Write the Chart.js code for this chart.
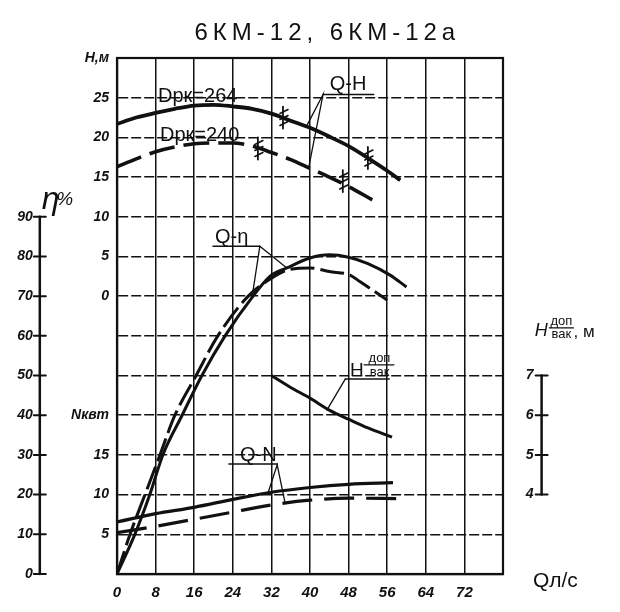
<!DOCTYPE html>
<html>
<head>
<meta charset="utf-8">
<script src="https://cdn.jsdelivr.net/npm/chart.js@4.4.1/dist/chart.umd.min.js"></script>
<style>
  html, body { margin: 0; padding: 0; background: #fff; }
</style>
</head>
<body>
<canvas id="pump" width="620" height="612"></canvas>
<script>
/* ---- axis labels ---- */
const qTickLabels = ['0', '8', '16', '24', '32', '40', '48', '56', '64', '72', ''];
// left grid labels, bottom row first: N (кВт) in the lower part, H (м) in the upper part
const rowTickLabels = ['', '5', '10', '15', 'Nквт', '', '', '0', '5', '10', '15', '20', '25', 'H,м'];
const etaTicks = [0, 10, 20, 30, 40, 50, 60, 70, 80, 90];
const vakTicks = [4, 5, 6, 7];

/* ---- Q-H, Dрк = 264 (solid) ---- */
const qH264 = [0, 4, 8, 12, 16, 20, 24, 28, 32, 36, 40, 44, 48, 52, 56, 58.7];
const h264  = [21.7, 22.5, 23.1, 23.6, 24.0, 24.1, 23.9, 23.6, 23.0, 22.1, 21.2, 20.1, 18.9, 17.4, 15.8, 14.6];

/* ---- Q-H, Dрк = 240 (dashed) ---- */
const qH240 = [0, 4, 8, 12, 16, 20, 24, 28, 32, 36, 40, 44, 48, 53];
const h240  = [16.3, 17.3, 18.2, 18.8, 19.2, 19.3, 19.3, 18.9, 18.1, 17.2, 16.1, 15.0, 13.8, 12.1];

/* ---- Q-η ---- */
const qEta264 = [0, 3.7, 6.8, 9.5, 13.5, 17.6, 22.4, 28.2, 31.7, 35.2, 40, 44, 48, 52, 56.6, 60];
const eta264  = [0, 10, 20, 30, 40, 50, 60, 70, 75, 77.1, 79.6, 80.4, 79.8, 78.2, 75.3, 72.3];
const qEta240 = [0, 2.7, 5.8, 8.9, 12, 16.4, 20.9, 27.2, 32, 36, 40, 44, 48.3, 50.4, 53, 56];
const eta240  = [0, 10, 20, 30, 40, 50, 60, 70, 74.5, 76.8, 77.1, 76.2, 75.3, 73.6, 71.5, 69];

/* ---- Q-N ---- */
const qN264 = [0, 8, 16, 24, 32, 40, 48, 57.2];
const n264  = [6.55, 7.6, 8.4, 9.4, 10.3, 10.9, 11.3, 11.5];
const qN240 = [0, 8, 16, 24, 32, 40, 48, 58.7];
const n240  = [5.2, 6.0, 6.9, 7.8, 8.7, 9.3, 9.55, 9.5];

/* ---- Q - H доп.вак ---- */
const qVak = [32, 36, 40, 44, 48, 52, 57];
const vak  = [7.0, 6.7, 6.43, 6.13, 5.9, 5.68, 5.45];

const ink = '#111';
const fam = '"Liberation Sans", "DejaVu Sans", sans-serif';

const pts = (qs, vs) => qs.map((q, i) => ({ x: q, y: vs[i] }));

function curve(qs, vs, axis, width, dash) {
  return {
    data: pts(qs, vs), yAxisID: axis,
    borderColor: ink, borderWidth: width, borderDash: dash || [],
    pointRadius: 0, fill: false, cubicInterpolationMode: 'monotone'
  };
}

/* extra axes, labels and leader lines drawn on top through the chart scales */
const sketch = {
  id: 'sketch',
  afterDraw(chart) {
    const { ctx, chartArea: a, scales: s } = chart;
    const X = q => s.x.getPixelForValue(q);
    const R = r => s.y.getPixelForValue(r);
    ctx.save();
    ctx.strokeStyle = ink; ctx.fillStyle = ink; ctx.lineCap = 'round';

    const line = (p, w) => {
      ctx.lineWidth = w; ctx.beginPath();
      p.forEach((c, i) => i ? ctx.lineTo(c[0], c[1]) : ctx.moveTo(c[0], c[1]));
      ctx.stroke();
    };
    const text = (str, x, y, font, align, base) => {
      ctx.font = font; ctx.textAlign = align || 'left'; ctx.textBaseline = base || 'alphabetic';
      ctx.fillText(str, x, y);
    };

    // frame
    ctx.lineWidth = 2.2;
    ctx.strokeRect(a.left, a.top, a.right - a.left, a.bottom - a.top);

    // η axis (left, at Q = -16)
    const ex = X(-16);
    line([[ex, s.yEta.getPixelForValue(0)], [ex, s.yEta.getPixelForValue(90)]], 2.5);
    etaTicks.forEach(v => {
      const y = s.yEta.getPixelForValue(v);
      line([[ex - 6, y], [ex + 6, y]], 2);
      text(String(v), ex - 7, y, 'italic bold 14px ' + fam, 'right', 'middle');
    });
    text('η', X(-15.6), R(9.2), 'italic 32px ' + fam);
    text('%', X(-12.6), R(9.3), 'italic 19px ' + fam);

    // H доп.вак axis (right, at Q = 88)
    const vx = X(88);
    line([[vx, s.yVak.getPixelForValue(4)], [vx, s.yVak.getPixelForValue(7)]], 2.5);
    vakTicks.forEach(v => {
      const y = s.yVak.getPixelForValue(v);
      line([[vx - 6, y], [vx + 6, y]], 2);
      text(String(v), vx - 8, y, 'italic bold 14px ' + fam, 'right', 'middle');
    });
    text('H', X(86.6), R(6.0), 'italic 18px ' + fam);
    text('доп', X(92.1), R(6.28), '13px ' + fam, 'center');
    line([[X(89.6), R(6.2)], [X(94.6), R(6.2)]], 1.2);
    text('вак', X(92.1), R(5.94), '13px ' + fam, 'center');
    text(', м', X(94.6), R(5.97), '17px ' + fam);

    // axis names and title
    text('Qл/с', X(86.2), R(-0.33), '21px ' + fam);
    ctx.letterSpacing = '5px';
    text('6КМ-12, 6КМ-12а', X(43.6), R(13.45), '24px ' + fam, 'center');
    ctx.letterSpacing = '0px';

    // impeller diameters
    text('Dрк=264', X(8.5), R(11.9), '20px ' + fam);
    text('Dрк=240', X(8.9), R(10.9), '20px ' + fam);

    // Q-H label and leaders
    text('Q-H', X(44.1), R(12.2), '20px ' + fam);
    line([[X(42.7), R(12.08)], [X(53.2), R(12.08)]], 1.5);
    line([[X(39.4), R(11.31)], [X(42.7), R(12.08)], [X(39.8), R(10.28)]], 1.3);

    // Q-η label and leaders
    text('Q-η', X(20.3), R(8.35), '20px ' + fam);
    line([[X(19.9), R(8.26)], [X(29.6), R(8.26)]], 1.5);
    line([[X(35.2), R(7.71)], [X(29.6), R(8.26)], [X(28.0), R(6.98)]], 1.3);

    // Q-N label and leaders
    text('Q-N', X(25.5), R(2.84), '20px ' + fam);
    line([[X(23.2), R(2.77)], [X(33.2), R(2.77)]], 1.5);
    line([[X(31.3), R(2.04)], [X(33.2), R(2.75)], [X(34.8), R(1.81)]], 1.3);

    // H доп.вак curve label
    text('H', X(48.3), R(5.0), '19px ' + fam);
    text('доп', X(54.4), R(5.34), '13px ' + fam, 'center');
    line([[X(51.2), R(5.27)], [X(57.4), R(5.27)]], 1.2);
    text('вак', X(54.4), R(4.98), '13px ' + fam, 'center');
    line([[X(47.3), R(4.91)], [X(56.4), R(4.91)]], 1.5);
    line([[X(47.3), R(4.91)], [X(43.5), R(4.13)]], 1.3);

    // working-range marks on the Q-H curves
    const hatch = (q, h) => {
      const x = X(q), y = s.yH.getPixelForValue(h);
      line([[x, y - 11], [x, y + 11]], 1.8);
      [-6, 0, 6].forEach(o => line([[x - 3, y + o + 2], [x + 5, y + o - 2]], 1.6));
    };
    hatch(34.4, 22.5); hatch(29.2, 18.6); hatch(52, 17.4); hatch(46.8, 14.5);

    ctx.restore();
  }
};

new Chart(document.getElementById('pump'), {
  type: 'line',
  data: {
    datasets: [
      curve(qH264, h264, 'yH', 3.8),
      curve(qH240, h240, 'yH', 3.6, [26, 9]),
      curve(qEta264, eta264, 'yEta', 3),
      curve(qEta240, eta240, 'yEta', 3, [24, 6]),
      curve(qN264, n264, 'yN', 3.2),
      curve(qN240, n240, 'yN', 3.2, [30, 12]),
      curve(qVak, vak, 'yVak', 3)
    ]
  },
  options: {
    responsive: false,
    animation: false,
    layout: { padding: { left: 0, top: 58, right: 117, bottom: 8 } },
    plugins: { legend: { display: false }, tooltip: { enabled: false } },
    scales: {
      x: {
        type: 'linear', min: 0, max: 80,
        grid: { color: ink, lineWidth: 1.5, drawTicks: false },
        border: { display: true, color: ink, width: 2.2 },
        ticks: {
          stepSize: 8, autoSkip: false, maxRotation: 0, padding: 10, color: ink,
          font: { family: fam, size: 15, style: 'italic', weight: 'bold' },
          callback: (v, i) => qTickLabels[i]
        },
        afterFit: sc => { sc.height = 30; }
      },
      y: {
        type: 'linear', position: 'left', min: 0, max: 13,
        grid: { color: ink, lineWidth: 1.5, drawTicks: false },
        border: { display: true, color: ink, width: 2.2, dash: [10, 3] },
        ticks: {
          stepSize: 1, autoSkip: false, padding: 8, color: ink,
          font: { family: fam, size: 14, style: 'italic', weight: 'bold' },
          callback: (v, i) => rowTickLabels[i]
        },
        afterFit: sc => { sc.width = 117; }
      },
      yH:   { type: 'linear', display: false, min: -35, max: 30 },
      yN:   { type: 'linear', display: false, min: 0, max: 65 },
      yEta: { type: 'linear', display: false, min: 0, max: 130 },
      yVak: { type: 'linear', display: false, min: 2, max: 15 }
    }
  },
  plugins: [sketch]
});
</script>
</body>
</html>
